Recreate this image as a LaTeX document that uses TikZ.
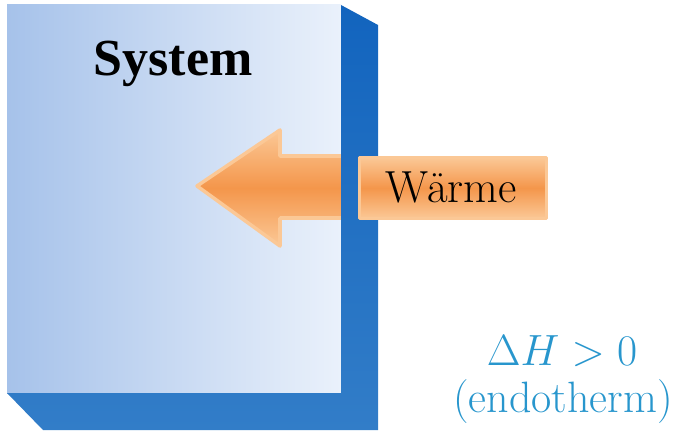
\documentclass[tikz,border=0pt]{standalone}
\usepackage{fontspec}
\newfontfamily\sysfont{Liberation Serif}
\definecolor{faceleft}{RGB}{166,194,234}
\definecolor{faceright}{RGB}{234,241,251}
\definecolor{walltop}{RGB}{18,100,190}
\definecolor{wallbottom}{RGB}{50,125,200}
\definecolor{heatedge}{RGB}{251,200,150}
\definecolor{heatcore}{RGB}{244,150,75}
\definecolor{dhcolor}{RGB}{40,150,205}
\begin{document}
\begin{tikzpicture}[x=0.02cm, y=-0.02cm,
  heatfill/.style={top color=heatedge, bottom color=heatedge, middle color=heatcore},
  heatrim/.style={draw=heatedge, line width=2pt, line join=round},
  dhtext/.style={text=dhcolor, anchor=base, font=\fontsize{25}{28}\selectfont}
]
  \useasboundingbox (0,0) rectangle (685,439);

  % Front face of the system (bottom layer)
  \shade[left color=faceleft, right color=faceright] (7,5) rectangle (341,393);

  % Heat arrow entering the system
  \path[heatfill, heatrim] (197,186) -- (280,130) -- (280,156) -- (362,156)
    -- (362,218) -- (280,218) -- (280,246) -- cycle;

  % Side and bottom walls
  \shade[top color=walltop, bottom color=wallbottom]
    (341,5) -- (378,25) -- (378,430) -- (43,430) -- (7,393) -- (341,393) -- cycle;

  % Label box of the arrow
  \node[heatfill, heatrim, rectangle, minimum width=3.74cm, minimum height=1.22cm,
    inner sep=0pt] (box) at (453,188) {};
  \node[anchor=base, font=\fontsize{25.6}{28}\selectfont] (heat) at (451,202) {Wärme};

  % Texts
  \node[anchor=base, font=\sysfont\bfseries\fontsize{29.6}{32}\selectfont] (sys) at (173,75) {System};
  \node[dhtext] (dh) at (562,365) {$\Delta H > 0$};
  \node[dhtext] (endo) at (563,412) {(endotherm)};
\end{tikzpicture}
\end{document}
